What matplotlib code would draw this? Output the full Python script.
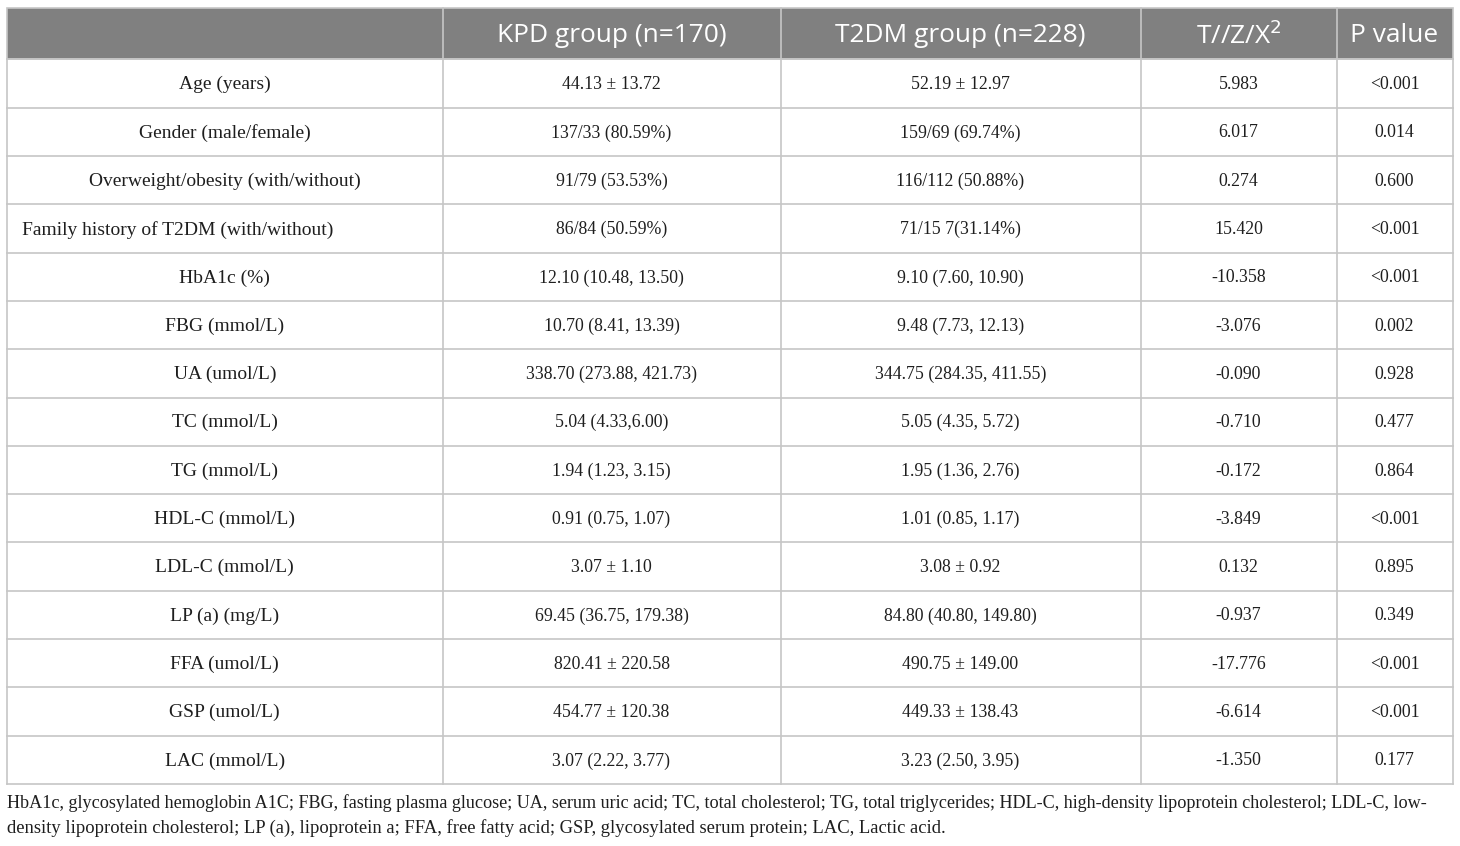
import matplotlib
matplotlib.use("Agg")
from matplotlib import pyplot as plt
from matplotlib.patches import Rectangle

# Table content
headers = ['', 'KPD group (n=170)', 'T2DM group (n=228)', r'T//Z/X$^2$', 'P value']
variables = ['Age (years)', 'Gender (male/female)', 'Overweight/obesity (with/without)',
             'Family history of T2DM (with/without)', 'HbA1c (%)', 'FBG (mmol/L)',
             'UA (umol/L)', 'TC (mmol/L)', 'TG (mmol/L)', 'HDL-C (mmol/L)',
             'LDL-C (mmol/L)', 'LP (a) (mg/L)', 'FFA (umol/L)', 'GSP (umol/L)',
             'LAC (mmol/L)']
kpd = ['44.13 ± 13.72', '137/33 (80.59%)', '91/79 (53.53%)', '86/84 (50.59%)',
       '12.10 (10.48, 13.50)', '10.70 (8.41, 13.39)', '338.70 (273.88, 421.73)',
       '5.04 (4.33,6.00)', '1.94 (1.23, 3.15)', '0.91 (0.75, 1.07)', '3.07 ± 1.10',
       '69.45 (36.75, 179.38)', '820.41 ± 220.58', '454.77 ± 120.38', '3.07 (2.22, 3.77)']
t2dm = ['52.19 ± 12.97', '159/69 (69.74%)', '116/112 (50.88%)', '71/15 7(31.14%)',
        '9.10 (7.60, 10.90)', '9.48 (7.73, 12.13)', '344.75 (284.35, 411.55)',
        '5.05 (4.35, 5.72)', '1.95 (1.36, 2.76)', '1.01 (0.85, 1.17)', '3.08 ± 0.92',
        '84.80 (40.80, 149.80)', '490.75 ± 149.00', '449.33 ± 138.43', '3.23 (2.50, 3.95)']
stat = ['5.983', '6.017', '0.274', '15.420', '-10.358', '-3.076', '-0.090', '-0.710',
        '-0.172', '-3.849', '0.132', '-0.937', '-17.776', '-6.614', '-1.350']
pval = ['<0.001', '0.014', '0.600', '<0.001', '<0.001', '0.002', '0.928', '0.477',
        '0.864', '<0.001', '0.895', '0.349', '<0.001', '<0.001', '0.177']
footnote = ['HbA1c, glycosylated hemoglobin A1C; FBG, fasting plasma glucose; UA, serum uric acid; '
            'TC, total cholesterol; TG, total triglycerides; HDL-C, high-density lipoprotein cholesterol; LDL-C, low-',
            'density lipoprotein cholesterol; LP (a), lipoprotein a; FFA, free fatty acid; '
            'GSP, glycosylated serum protein; LAC, Lactic acid.']

# Layout (pixels)
col_edges = [7, 442.5, 780.5, 1140.5, 1336.5, 1452.5]
top, head_bottom, bottom = 8, 59.5, 784
row_h = (bottom - head_bottom) / len(variables)
grid_color = '#c6c6c6'
header_color = '#808080'
text_color = '#1e1e1e'
serif = 'Liberation Serif'
sans = 'Open Sans'

fig = plt.figure(figsize=(14.6, 8.46), dpi=100)
ax = fig.add_axes([0, 0, 1, 1])
ax.set_xlim(0, 1460)
ax.set_ylim(846, 0)
ax.axis('off')

# Header band
ax.add_patch(Rectangle((col_edges[0], top), col_edges[-1] - col_edges[0], head_bottom - top,
                       facecolor=header_color, edgecolor=grid_color, lw=1.2))
for x in col_edges[1:-1]:
    ax.plot([x, x], [top, bottom], color=grid_color, lw=1.2)
ax.plot([col_edges[0], col_edges[0]], [head_bottom, bottom], color=grid_color, lw=1.2)
ax.plot([col_edges[-1], col_edges[-1]], [head_bottom, bottom], color=grid_color, lw=1.2)
for i in range(len(variables) + 1):
    y = head_bottom + i * row_h
    ax.plot([col_edges[0], col_edges[-1]], [y, y], color=grid_color, lw=1.2)

centers = [(col_edges[i] + col_edges[i + 1]) / 2 for i in range(len(col_edges) - 1)]

for j, h in enumerate(headers):
    ax.text(centers[j], (top + head_bottom) / 2 + 1.5, h, ha='center', va='center',
            color='white', fontsize=18.9, family=sans)

columns = [variables, kpd, t2dm, stat, pval]
for i in range(len(variables)):
    yc = head_bottom + (i + 0.5) * row_h + 1
    for j, col in enumerate(columns):
        txt = col[i]
        size = 14 if j == 0 else 12.8
        if j == 0 and txt.startswith('Family'):
            ax.text(22, yc, txt, ha='left', va='center', fontsize=size,
                    family=serif, color=text_color)
        else:
            ax.text(centers[j], yc, txt, ha='center', va='center', fontsize=size,
                    family=serif, color=text_color)

# Footnote
ax.text(7, 803, footnote[0], ha='left', va='center', fontsize=13.1, family=serif, color=text_color)
ax.text(7, 828, footnote[1], ha='left', va='center', fontsize=13.4, family=serif, color=text_color)

fig.savefig('out.png', dpi=100)
